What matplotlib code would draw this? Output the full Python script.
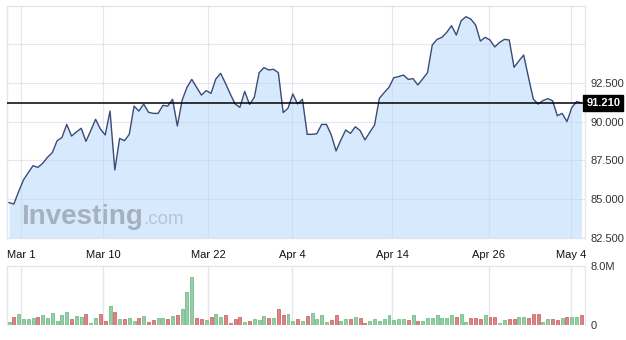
import matplotlib

matplotlib.use("Agg")
import matplotlib.pyplot as plt
import matplotlib.transforms as mtransforms
import numpy as np

plt.rcParams["font.family"] = ["Liberation Sans", "DejaVu Sans"]

# closing prices, one per bar
prices = [
    84.78, 84.69, 85.49, 86.24, 86.71, 87.16, 87.05, 87.31, 87.70, 88.00,
    88.77, 88.97, 89.82, 89.07, 89.33, 89.57, 88.73, 89.42, 90.15, 89.52,
    89.14, 90.68, 86.88, 88.92, 88.77, 89.18, 91.00, 90.68, 91.13, 90.60,
    90.53, 90.53, 91.05, 91.00, 91.44, 89.72, 91.39, 92.21, 92.72, 92.21,
    91.71, 92.00, 91.82, 92.75, 93.11, 92.47, 91.78, 91.14, 90.92, 91.95,
    91.11, 91.56, 93.15, 93.48, 93.33, 93.37, 93.15, 90.58, 90.86, 91.78,
    91.14, 91.44, 89.18, 89.18, 89.22, 89.82, 89.82, 89.14, 88.11, 88.82,
    89.46, 89.24, 89.67, 89.42, 88.82, 89.31, 89.78, 91.50, 91.87, 92.21,
    92.83, 92.90, 93.00, 92.72, 92.77, 92.36, 92.75, 93.15, 94.94, 95.30,
    95.43, 95.75, 96.18, 95.58, 96.50, 96.76, 96.61, 96.23, 95.19, 95.43,
    95.26, 94.81, 95.11, 95.30, 95.26, 93.50, 93.91, 94.29, 92.85, 91.46,
    91.13, 91.35, 91.48, 91.35, 90.38, 90.53, 90.00, 90.90, 91.29, 91.21,
]

# volume in millions
volumes = [
    0.37, 1.03, 1.54, 0.84, 0.84, 0.98, 1.12, 1.40, 0.98, 1.68,
    0.56, 1.40, 1.83, 0.84, 1.22, 1.12, 1.54, 0.28, 0.98, 1.54,
    0.56, 2.53, 1.83, 0.84, 0.84, 0.98, 0.56, 0.98, 1.26, 0.42,
    0.70, 0.98, 0.98, 0.84, 1.26, 1.40, 2.11, 4.50, 6.50, 0.98,
    0.84, 0.70, 1.12, 1.54, 1.12, 1.40, 0.28, 0.84, 1.12, 0.42,
    0.56, 0.84, 0.70, 1.26, 0.98, 0.98, 2.11, 1.40, 1.54, 0.56,
    0.84, 0.56, 1.26, 1.68, 0.84, 1.40, 0.42, 0.70, 1.40, 0.56,
    0.84, 0.84, 1.12, 0.98, 0.28, 0.56, 0.84, 0.56, 0.84, 1.40,
    0.70, 0.84, 0.84, 0.70, 1.40, 0.56, 0.56, 0.98, 0.98, 1.40,
    0.98, 0.98, 1.40, 1.12, 1.54, 0.42, 0.98, 0.98, 0.84, 1.40,
    1.12, 1.12, 0.28, 0.70, 0.84, 0.84, 1.12, 1.12, 0.98, 1.54,
    1.54, 0.42, 0.84, 0.84, 0.70, 0.98, 1.12, 1.12, 1.12, 1.40,
]

tick_pos = [2.5, 19.6, 41.4, 58.9, 79.7, 99.7, 116.8]
tick_labels = ["Mar 1", "Mar 10", "Mar 22", "Apr 4", "Apr 14", "Apr 26", "May 4"]
price_ticks = [82.5, 85.0, 87.5, 90.0, 92.5, 95.0]
last_price = 91.21

x = np.arange(len(prices))
up = [True] + [prices[i] >= prices[i - 1] for i in range(1, len(prices))]

frame_color = "#e3e6ed"
grid_color = "#c9d3e2"
text_color = "#333333"

fig = plt.figure(figsize=(6.26, 3.40), dpi=100)
ax = fig.add_axes([7 / 626, 1 - 238 / 340, 578 / 626, 232 / 340])
vax = fig.add_axes([7 / 626, 1 - 325 / 340, 578 / 626, 59 / 340])

xlim = (-0.42, 119.75)

# price panel
ax.fill_between(x, prices, 82.5, color="#d7e9fd", lw=0, zorder=1)
ax.plot(x, prices, color="#3b4a78", lw=1.0, zorder=3)
ax.axhline(last_price, color="black", lw=1.1, zorder=4)
ax.set_xlim(*xlim)
ax.set_ylim(82.5, 97.45)
ax.set_xticks(tick_pos)
ax.set_xticklabels(tick_labels, color="#111111", fontsize=8)
ax.set_yticks(price_ticks)
ax.set_yticklabels(["%.3f" % v if v < 95 else "" for v in price_ticks])
ax.yaxis.tick_right()
ax.tick_params(axis="y", length=0, pad=4, labelsize=8, colors=text_color)
ax.tick_params(axis="x", length=0, pad=9)
ax.grid(color=grid_color, lw=0.8, alpha=0.5, zorder=2)
ax.set_axisbelow(False)
for spine in ax.spines.values():
    spine.set_color(frame_color)
    spine.set_linewidth(1)

trans = mtransforms.blended_transform_factory(ax.transAxes, ax.transData)
ax.text(
    1.002, last_price, "91.210", transform=trans, ha="left", va="center",
    color="white", fontsize=8, fontweight="bold", zorder=6,
    bbox=dict(boxstyle="square,pad=0.25", facecolor="black", edgecolor="black"),
)

# watermark
ax.text(0.0242, 0.06, "Investing", transform=ax.transAxes, fontsize=20,
        fontweight="bold", color="#a5b0c1", va="baseline", ha="left", zorder=2)
ax.text(0.2353, 0.06, ".com", transform=ax.transAxes, fontsize=13.5,
        color="#b8c4d5", va="baseline", ha="left", zorder=2)

# volume panel
colors = ["#93cfa6" if u else "#dc8484" for u in up]
edges = ["#76bd8c" if u else "#cc6a6a" for u in up]
vax.bar(x, volumes, width=0.62, color=colors, edgecolor=edges, lw=0.6, zorder=3)
vax.set_xlim(*xlim)
vax.set_ylim(0, 8.0)
vax.set_xticks(tick_pos)
vax.set_xticklabels([])
vax.set_yticks([0, 8.0])
vax.set_yticklabels(["0", "8.0M"])
vax.yaxis.tick_right()
vax.tick_params(axis="y", length=0, pad=4, labelsize=8, colors=text_color)
vax.tick_params(axis="x", length=0)
vax.grid(axis="x", color=frame_color, lw=1, zorder=1)
for name, spine in vax.spines.items():
    spine.set_color(frame_color)
    spine.set_linewidth(1)
vax.spines["bottom"].set_visible(False)

fig.savefig("out.png", dpi=100)
plt.close(fig)
